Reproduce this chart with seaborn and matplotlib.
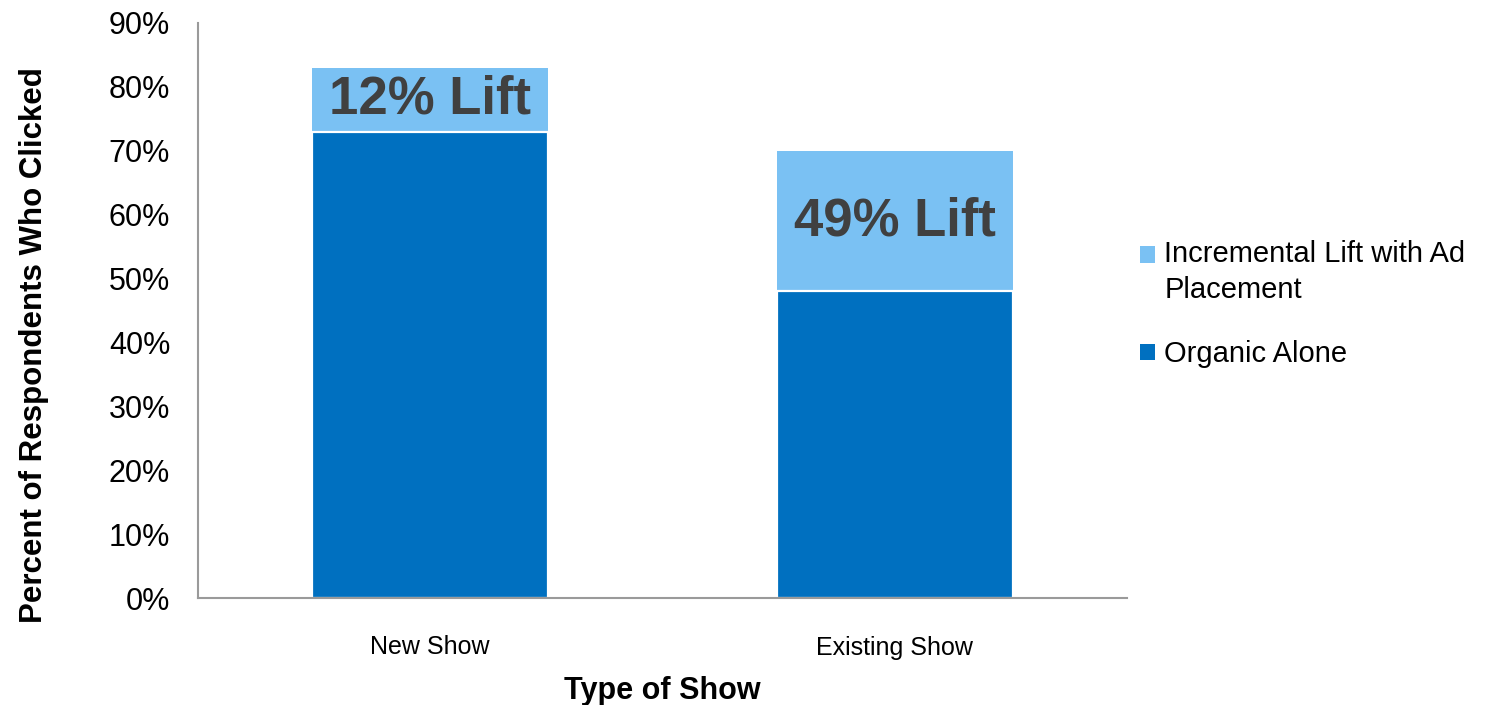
import matplotlib
matplotlib.use("Agg")
import matplotlib.pyplot as plt
import seaborn as sns
import pandas as pd
from matplotlib.patches import Patch, Rectangle
from matplotlib.legend_handler import HandlerPatch

# Share of respondents who clicked, by type of show (percent)
categories = ["New Show", "Existing Show"]
organic_alone = [73, 48]
incremental_lift = [10, 22]
lift_labels = ["12% Lift", "49% Lift"]
series_names = ["Incremental Lift with Ad\nPlacement", "Organic Alone"]
y_ticks = [0, 10, 20, 30, 40, 50, 60, 70, 80, 90]

dark_blue = "#0070C0"
light_blue = "#7AC1F3"
axis_gray = "#9A9A9A"
label_gray = "#404040"

sns.set_theme(style="white")
plt.rcParams["font.family"] = ["Liberation Sans", "DejaVu Sans"]
plt.rcParams["text.color"] = "black"
plt.rcParams["axes.labelcolor"] = "black"

df = pd.DataFrame({
    "show": categories,
    "organic": organic_alone,
    "lift": incremental_lift,
})
df["total"] = df["organic"] + df["lift"]

fig = plt.figure(figsize=(15.11, 7.05), dpi=100)
ax = fig.add_axes([198 / 1511, 1 - 598 / 705, 929 / 1511, 575 / 705])

# Stacked look: full height in light blue, organic part in dark blue on top
sns.barplot(data=df, x="show", y="total", color=light_blue, saturation=1,
            width=0.508, edgecolor="none", linewidth=0, ax=ax)
sns.barplot(data=df, x="show", y="organic", color=dark_blue, saturation=1,
            width=0.508, edgecolor="white", linewidth=1.6, ax=ax)

for i, row in df.iterrows():
    ax.text(i, row["organic"] + row["lift"] / 2, lift_labels[i],
            ha="center", va="center", fontsize=38, fontweight="bold",
            color=label_gray)

ax.set_xlim(-0.5, 1.5)
ax.set_ylim(0, 90)
ax.set_yticks(y_ticks)
ax.set_yticklabels([f"{v}%" for v in y_ticks])
ax.tick_params(axis="y", length=0, pad=20, labelsize=22, labelcolor="black")
ax.tick_params(axis="x", length=0, pad=27, labelsize=18, labelcolor="black")

for side in ("top", "right"):
    ax.spines[side].set_visible(False)
for side in ("left", "bottom"):
    ax.spines[side].set_color(axis_gray)
    ax.spines[side].set_linewidth(1.5)

ax.set_xlabel("Type of Show", fontsize=22, fontweight="bold", labelpad=12)
ax.set_ylabel("Percent of Respondents Who Clicked", fontsize=22.5,
              fontweight="bold")
ax.yaxis.set_label_coords(-0.16, 0.44)


def square_on_first_line(shift):
    # Legend swatch drawn level with the first line of a wrapped label
    def make(legend, orig_handle, xdescent, ydescent, width, height, fontsize):
        return Rectangle((-xdescent, -ydescent + shift * fontsize),
                         width, height)
    return make


handles = [Patch(facecolor=light_blue, edgecolor="none"),
           Patch(facecolor=dark_blue, edgecolor="none")]
leg = fig.legend(handles, series_names, loc="upper left",
                 bbox_to_anchor=(1114 / 1511, 1 - 214 / 705), frameon=False,
                 fontsize=21, handlelength=0.5, handleheight=0.5,
                 handletextpad=0.32, labelspacing=1.25,
                 handler_map={handles[0]: HandlerPatch(
                     patch_func=square_on_first_line(0.62))})
for t in leg.get_texts():
    t.set_linespacing(1.35)

fig.savefig("out.png", dpi=100)
